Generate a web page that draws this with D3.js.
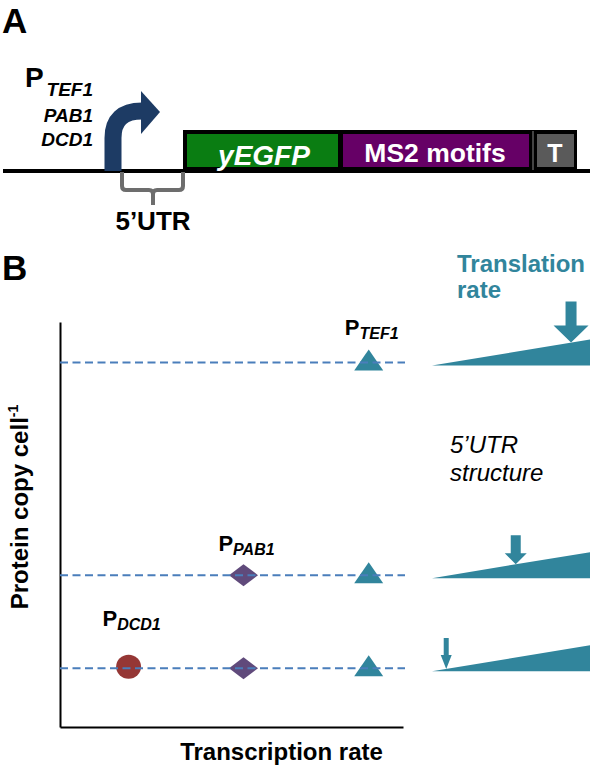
<!DOCTYPE html>
<html>
<head>
<meta charset="utf-8">
<script src="https://cdn.jsdelivr.net/npm/d3@7"></script>
<style>
  html, body { margin: 0; padding: 0; background: #fff; }
  svg { display: block; }
  text { font-family: "Liberation Sans", Arial, Helvetica, sans-serif; }
</style>
</head>
<body>
<svg id="chart" width="603" height="771"></svg>
<script>
// ---------------- data ----------------
const promoters = ["TEF1", "PAB1", "DCD1"];
const transcriptionRate = [9.0, 5.35, 2.0];        // x value of each promoter (0-10)
const proteinLevel = [9.0, 3.75, 1.45];            // y value of each 5'UTR row (0-10)
const rowPromoters = [["TEF1"], ["PAB1", "TEF1"], ["DCD1", "PAB1", "TEF1"]];
const translationRate = [0.88, 0.53, 0.09];         // arrow position on each wedge (0-1)
const constructParts = ["yEGFP", "MS2 motifs", "T"];

// ---------------- setup ----------------
const svg = d3.select("#chart");
const TEAL = "#31859c";
const colors = { TEF1: TEAL, PAB1: "#604a7b", DCD1: "#953735" };

// ================= Panel A =================
const gA = svg.append("g");
gA.append("text").attr("x", 2).attr("y", 33).attr("font-size", 35).attr("font-weight", "bold").text("A");

// promoter labels
gA.append("text").attr("x", 25).attr("y", 87).attr("font-size", 28).attr("font-weight", "bold").text("P");
const subY = [96, 122, 146];
promoters.forEach((p, i) => {
  gA.append("text").attr("x", 93).attr("y", subY[i]).attr("text-anchor", "end")
    .attr("font-size", 19).attr("font-weight", "bold").attr("font-style", "italic").text(p);
});

// DNA line
gA.append("line").attr("x1", 3).attr("x2", 590).attr("y1", 171).attr("y2", 171)
  .attr("stroke", "#000").attr("stroke-width", 4);

// promoter arrow
gA.append("path").attr("d", "M113,171 L113,138 Q113,111 142,111")
  .attr("fill", "none").attr("stroke", "#1d3b64").attr("stroke-width", 17);
gA.append("path").attr("d", "M141,91 L160,112 L141,134 Z").attr("fill", "#1d3b64");

// bracket
gA.append("path")
  .attr("d", "M122,172 V186 Q122,190 126,190 H149 Q153,190 153,194 V205 M153,194 Q153,190 157,190 H179 Q183,190 183,186 V172")
  .attr("fill", "none").attr("stroke", "#6d6d6d").attr("stroke-width", 4);
gA.append("text").attr("x", 153).attr("y", 230).attr("text-anchor", "middle")
  .attr("font-size", 26).attr("font-weight", "bold").text("5\u2019UTR");

// construct boxes
const boxes = [
  { x0: 183, x1: 533, fills: [{ x0: 187, x1: 338, c: "#0a7d12" }, { x0: 343, x1: 529, c: "#660066" }] },
  { x0: 533, x1: 577, fills: [{ x0: 537, x1: 574, c: "#5a5a5a" }] }
];
boxes.forEach(b => {
  gA.append("rect").attr("x", b.x0).attr("y", 130).attr("width", b.x1 - b.x0).attr("height", 42).attr("fill", "#000");
  b.fills.forEach(f => {
    gA.append("rect").attr("x", f.x0).attr("y", 134).attr("width", f.x1 - f.x0).attr("height", 33).attr("fill", f.c);
  });
});
gA.append("line").attr("x1", 533).attr("x2", 533).attr("y1", 131).attr("y2", 170).attr("stroke", "#888").attr("stroke-width", 1);
const partText = [
  { x: 264, y: 165, size: 28, italic: true },
  { x: 435, y: 162, size: 26.5, italic: false },
  { x: 555, y: 162, size: 25, italic: false }
];
constructParts.forEach((t, i) => {
  const s = partText[i];
  gA.append("text").attr("x", s.x).attr("y", s.y).attr("text-anchor", "middle")
    .attr("font-size", s.size).attr("font-weight", "bold")
    .attr("font-style", s.italic ? "italic" : "normal").attr("fill", "#fff").text(t);
});

// ================= Panel B =================
const gB = svg.append("g");
gB.append("text").attr("x", 2).attr("y", 280).attr("font-size", 35).attr("font-weight", "bold").text("B");

const x = d3.scaleLinear().domain([0, 10]).range([60, 403]);
const y = d3.scaleLinear().domain([0, 10]).range([727, 322]);

// axes
const yAxis = gB.append("g").attr("transform", `translate(${x(0)},0)`)
  .call(d3.axisLeft(y).ticks(0).tickSizeOuter(0));
const xAxis = gB.append("g").attr("transform", `translate(0,${y(0)})`)
  .call(d3.axisBottom(x).ticks(0).tickSizeOuter(0));
[yAxis, xAxis].forEach(a => a.select(".domain").attr("stroke", "#000").attr("stroke-width", 2));

gB.append("text").attr("x", (x(0) + x(10)) / 2 + 50).attr("y", 760).attr("text-anchor", "middle")
  .attr("font-size", 24).attr("font-weight", "bold").text("Transcription rate");

const yl = gB.append("text").attr("transform", "translate(28,507) rotate(-90)")
  .attr("text-anchor", "middle").attr("font-size", 24).attr("font-weight", "bold");
yl.append("tspan").text("Protein copy cell");
yl.append("tspan").attr("font-size", 14).attr("dy", -10).text("-1");

// markers
const markerPath = {
  TEF1: "M0,-13 L14.5,8 L-14.5,8 Z",
  PAB1: "M0,-11 L14.5,0 L0,11 L-14.5,0 Z",
  DCD1: null
};
rowPromoters.forEach((list, r) => {
  list.forEach(p => {
    const px = x(transcriptionRate[promoters.indexOf(p)]);
    const py = y(proteinLevel[r]);
    if (markerPath[p]) {
      gB.append("path").attr("d", markerPath[p]).attr("transform", `translate(${px},${py})`).attr("fill", colors[p]);
    } else {
      gB.append("ellipse").attr("cx", px).attr("cy", py - 1.5).attr("rx", 12.5).attr("ry", 12).attr("fill", colors[p]);
    }
  });
});

// dashed lines on top
proteinLevel.forEach(v => {
  gB.append("line").attr("x1", x(0)).attr("x2", 405).attr("y1", y(v)).attr("y2", y(v))
    .attr("stroke", "#4a7ebb").attr("stroke-width", 2).attr("stroke-dasharray", "8,4.5");
});

// promoter labels
const labelOffset = [28, 24, 42];
promoters.forEach((p, i) => {
  const px = x(transcriptionRate[i]) + 3;
  const py = y(proteinLevel[i]) - labelOffset[i];
  const t = gB.append("text").attr("x", px).attr("y", py).attr("text-anchor", "middle").attr("font-weight", "bold");
  t.append("tspan").attr("font-size", 22).text("P");
  t.append("tspan").attr("font-size", 16).attr("font-style", "italic").attr("dy", 4).text(p);
});

// translation rate panel
gB.append("text").attr("x", 457).attr("y", 272).attr("font-size", 24).attr("font-weight", "bold").attr("fill", TEAL).text("Translation");
gB.append("text").attr("x", 457).attr("y", 298).attr("font-size", 24).attr("font-weight", "bold").attr("fill", TEAL).text("rate");

gB.append("text").attr("x", 450).attr("y", 453).attr("font-size", 24).attr("font-style", "italic").text("5\u2019UTR");
gB.append("text").attr("x", 450).attr("y", 481).attr("font-size", 24).attr("font-style", "italic").text("structure");

const t = d3.scaleLinear().domain([0, 1]).range([432, 590]);
const wedgeH = 26;
const arrowSpec = [
  { shaft: 11, head: 35, len: 41, headLen: 17 },
  { shaft: 10, head: 22, len: 29, headLen: 11 },
  { shaft: 5, head: 11, len: 31, headLen: 14 }
];
proteinLevel.forEach((v, i) => {
  const base = y(v) + 3;
  gB.append("path")
    .attr("d", `M${t(0)},${base} L${t(1)},${base - wedgeH} L${t(1)},${base} Z`)
    .attr("fill", TEAL);
  const f = translationRate[i];
  const ax = t(f);
  const tipY = base - wedgeH * f;
  const s = arrowSpec[i];
  const top = tipY - s.len, hs = tipY - s.headLen;
  gB.append("path")
    .attr("d", `M${ax - s.shaft / 2},${top} L${ax + s.shaft / 2},${top} L${ax + s.shaft / 2},${hs} L${ax + s.head / 2},${hs} L${ax},${tipY} L${ax - s.head / 2},${hs} L${ax - s.shaft / 2},${hs} Z`)
    .attr("fill", TEAL);
});
</script>
</body>
</html>
